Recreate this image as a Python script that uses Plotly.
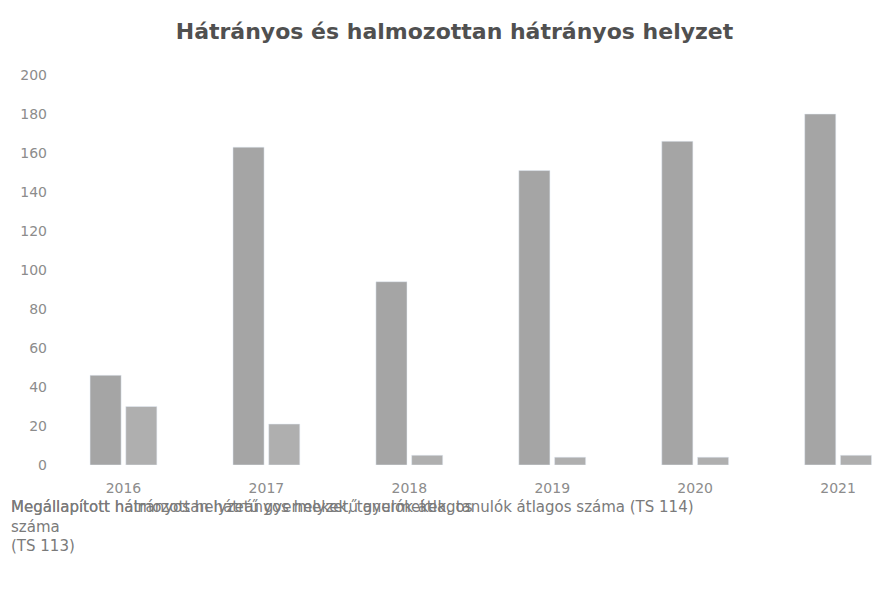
import plotly.graph_objects as go

years = ["2016", "2017", "2018", "2019", "2020", "2021"]
hh = [46, 163, 94, 151, 166, 180]
hhh = [30, 21, 5, 4, 4, 5]
name_hh = "Megállapított hátrányos helyzetű gyermekek, tanulók átlagos száma (TS 113)"
name_hhh = "Megállapított halmozottan hátrányos helyzetű gyermekek, tanulók átlagos száma (TS 114)"
title = "Hátrányos és halmozottan hátrányos helyzet"

fig = go.Figure()
fig.add_trace(go.Bar(x=years, y=hh, name=name_hh, marker_color="#a5a5a5"))
fig.add_trace(go.Bar(x=years, y=hhh, name=name_hhh, marker_color="#afafaf"))

fig.update_layout(
    width=893, height=592,
    margin=dict(l=44, r=0, t=67, b=135),
    paper_bgcolor="white", plot_bgcolor="white",
    barmode="group", bargap=0.5, bargroupgap=0.13,
    showlegend=False,
    title=dict(text="<b>" + title + "</b>", x=0.5, xanchor="center", y=0.96, yanchor="middle",
               font=dict(family="DejaVu Sans", size=22, color="#505050")),
    font=dict(family="DejaVu Sans", color="#8c8c8c"),
    xaxis=dict(range=[-0.5, 5.44], showgrid=False, showline=False, ticks="", automargin=False,
               ticklabelstandoff=13, tickfont=dict(size=14, color="#8c8c8c")),
    yaxis=dict(range=[0, 200], dtick=20, showgrid=False, zeroline=False, showline=False,
               ticks="", automargin=False, ticklabelstandoff=4,
               tickfont=dict(size=14, color="#8c8c8c")),
)

fig.add_annotation(text=name_hh.replace(" száma ", "<br>száma<br>"), xref="paper", yref="paper",
                   x=-0.0505, y=-0.08, xanchor="left", yanchor="top", align="left", showarrow=False,
                   font=dict(family="DejaVu Sans", size=15, color="#7a7a7a"))
fig.add_annotation(text=name_hhh, xref="paper", yref="paper",
                   x=-0.0505, y=-0.08, xanchor="left", yanchor="top", align="left", showarrow=False,
                   font=dict(family="DejaVu Sans", size=15, color="#7a7a7a"))

fig.write_html("out.html")
